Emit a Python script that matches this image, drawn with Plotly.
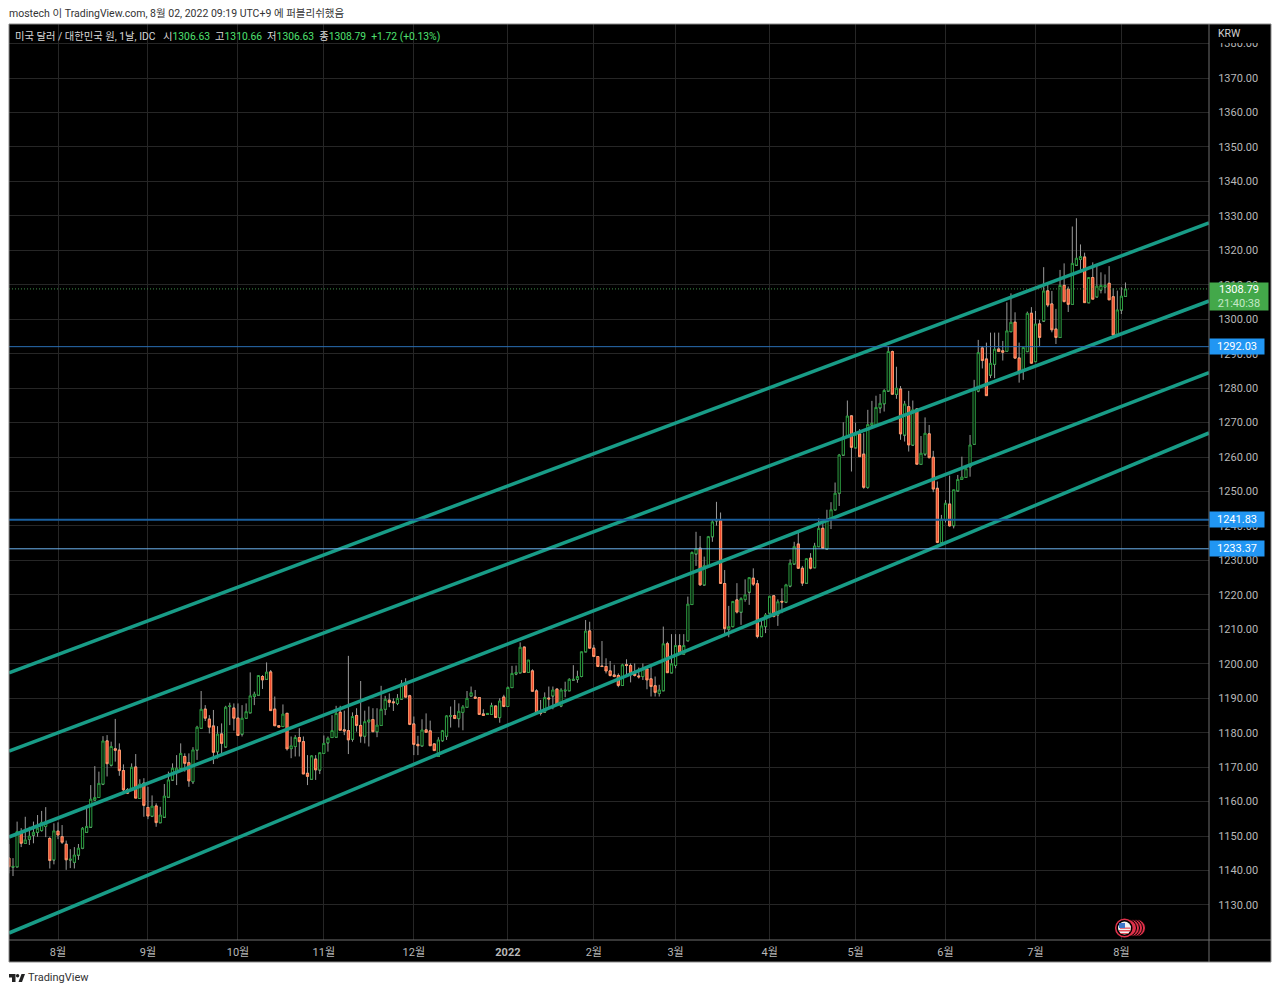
import plotly.graph_objects as go

# --- data ---
bar_start = -12  # trading day index, 0 = 2 Aug 2021
opens = [1143.6,1141.0,1141.1,1150.8,1147.9,1149.1,1150.3,1151.1,1151.6,1152.8,1149.3,1143.1,
 1151.4,1149.8,1147.6,1143.1,1142.4,1144.5,1146.5,1151.1,1152.6,1160.5,1161.2,1165.1,1177.6,1170.6,1175.3,1174.9,1169.0,1163.4,
 1163.9,1170.0,1160.9,1165.3,1158.3,1155.8,1158.7,1153.9,1155.5,1161.3,1166.3,1168.7,1169.7,1173.1,1171.3,1165.8,1175.0,1181.3,
 1186.8,1183.9,1181.9,1174.5,1179.6,1175.9,1187.6,1187.1,1184.2,1179.6,1184.2,1185.8,1190.5,1190.9,1196.3,1195.5,1197.6,1186.8,
 1182.0,1181.8,1185.6,1175.4,1176.0,1178.6,1177.4,1168.2,1166.5,1172.3,1169.2,1174.0,1177.1,1178.6,1178.7,1185.9,1180.8,1180.6,
 1178.1,1185.0,1182.1,1179.0,1183.2,1183.8,1180.3,1182.1,1186.8,1189.4,1188.9,1188.5,1189.8,1194.3,1190.7,1182.5,1176.6,1176.2,
 1180.8,1180.5,1176.7,1173.1,1177.7,1179.0,1184.8,1185.0,1184.1,1185.9,1187.4,1190.7,1190.3,1190.2,1185.4,1185.3,1185.3,1187.7,
 1184.4,1190.3,1187.6,1193.1,1197.1,1197.4,1204.8,1197.5,1197.9,1192.1,1186.1,1186.0,1190.0,1190.7,1192.6,1187.8,1192.2,1192.2,
 1195.3,1195.5,1196.3,1203.5,1209.5,1204.5,1202.1,1199.3,1199.2,1197.9,1196.7,1196.6,1193.7,1199.7,1199.5,1197.2,1196.4,1196.3,
 1198.5,1195.6,1193.6,1191.4,1192.2,1205.8,1197.4,1199.5,1205.2,1202.8,1206.7,1217.2,1231.9,1233.5,1222.9,1228.5,1236.9,1241.5,
 1241.6,1223.3,1210.1,1210.8,1218.5,1215.0,1218.7,1220.8,1224.8,1223.2,1207.9,1210.8,1214.7,1219.7,1214.2,1218.1,1217.9,1222.6,
 1229.0,1234.7,1227.7,1223.4,1230.6,1227.9,1234.0,1239.3,1233.3,1241.8,1244.7,1249.5,1260.6,1265.9,1271.9,1262.7,1266.7,1260.8,
 1251.2,1269.3,1269.3,1274.3,1275.5,1279.2,1290.6,1278.2,1279.7,1266.4,1274.6,1263.5,1273.9,1257.9,1260.9,1266.7,1259.9,1250.9,
 1235.2,1241.8,1246.3,1240.1,1250.2,1253.5,1254.1,1257.2,1263.7,1279.2,1291.6,1288.4,1283.8,1286.9,1291.3,1290.8,1290.7,1296.4,
 1299.1,1288.7,1285.3,1290.6,1301.7,1287.7,1298.6,1299.5,1308.2,1304.4,1297.1,1294.7,1309.8,1308.7,1304.3,1315.7,1317.4,1318.0,
 1304.8,1312.1,1306.5,1308.5,1309.4,1310.4,1306.5,1295.4,1302.7,1306.63]
highs = [1147.7,1143.6,1154.2,1152.3,1155.6,1152.7,1154.2,1156.1,1157.3,1158.4,1149.8,1153.7,
 1154.0,1153.2,1148.7,1146.2,1146.8,1147.7,1152.6,1158.5,1164.8,1170.3,1168.7,1179.0,1179.3,1177.4,1184.0,1176.9,1170.8,1163.9,
 1171.1,1173.8,1166.5,1166.8,1164.3,1161.8,1159.5,1158.5,1165.1,1168.7,1171.1,1173.5,1176.9,1174.0,1174.0,1175.8,1182.0,1192.1,
 1188.0,1185.1,1186.6,1181.9,1182.7,1187.8,1188.7,1188.5,1188.5,1188.0,1188.5,1197.5,1191.9,1196.7,1196.7,1200.4,1198.2,1190.5,
 1182.0,1188.2,1185.6,1178.9,1179.3,1181.3,1178.9,1173.5,1173.5,1173.5,1174.2,1179.2,1178.9,1185.1,1187.8,1187.8,1186.4,1202.3,
 1185.9,1187.1,1195.0,1186.4,1187.6,1187.1,1187.1,1193.6,1190.7,1191.4,1190.0,1191.2,1195.3,1195.8,1191.0,1184.7,1179.1,1183.9,
 1185.6,1183.5,1176.7,1178.7,1180.8,1185.1,1187.6,1189.5,1188.5,1188.0,1192.1,1193.4,1192.4,1190.3,1186.8,1185.6,1188.7,1187.8,
 1190.0,1191.0,1193.4,1199.4,1199.5,1206.2,1205.0,1201.1,1198.4,1192.6,1189.5,1191.7,1193.4,1193.4,1192.9,1192.9,1194.8,1195.8,
 1199.6,1198.0,1203.5,1212.7,1212.2,1205.5,1202.1,1206.6,1201.6,1200.8,1199.7,1197.2,1200.0,1201.3,1200.1,1200.1,1198.9,1200.1,
 1198.7,1199.2,1196.3,1193.9,1210.8,1206.4,1208.6,1208.6,1208.6,1208.6,1219.5,1232.6,1238.3,1237.1,1231.1,1237.1,1241.7,1247.0,
 1243.9,1227.2,1216.8,1218.1,1223.4,1219.3,1224.5,1225.0,1227.7,1224.3,1212.7,1214.7,1219.7,1219.7,1218.7,1221.9,1223.2,1230.3,
 1235.4,1238.3,1228.4,1230.5,1232.1,1235.1,1242.2,1240.8,1244.7,1246.9,1252.6,1260.9,1270.1,1276.4,1272.2,1270.0,1268.1,1266.9,
 1273.7,1276.3,1277.8,1278.3,1279.7,1292.2,1290.9,1286.2,1280.6,1276.3,1279.2,1276.4,1273.9,1266.1,1271.5,1269.3,1261.8,1252.9,
 1243.2,1247.5,1254.6,1250.5,1254.8,1260.1,1257.7,1266.4,1282.4,1294.0,1292.2,1293.2,1296.1,1296.1,1296.1,1293.7,1304.9,1307.5,
 1302.0,1293.2,1291.8,1302.2,1303.5,1302.4,1299.8,1315.1,1310.4,1308.2,1303.0,1314.3,1316.2,1309.5,1326.9,1329.3,1321.7,1319.3,
 1312.1,1316.5,1315.7,1313.6,1313.0,1315.4,1309.0,1308.3,1309.3,1310.66]
lows = [1139.2,1138.4,1141.1,1146.8,1147.9,1147.4,1147.9,1149.8,1151.3,1149.7,1140.6,1141.8,
 1149.1,1147.7,1140.2,1140.7,1140.6,1143.1,1146.2,1151.1,1152.6,1160.5,1161.2,1164.8,1167.3,1170.2,1171.6,1167.5,1162.9,1162.2,
 1163.9,1161.0,1160.9,1155.6,1154.9,1155.5,1152.7,1153.9,1155.5,1161.3,1166.1,1164.8,1169.7,1168.7,1164.3,1165.1,1172.1,1181.3,
 1183.4,1179.8,1170.9,1172.5,1174.0,1175.8,1182.2,1180.6,1179.2,1178.9,1184.0,1185.8,1188.0,1190.9,1192.7,1195.5,1186.4,1182.0,
 1181.6,1181.6,1174.8,1172.6,1173.1,1173.1,1168.0,1164.8,1166.3,1166.3,1168.0,1174.0,1174.5,1178.6,1178.7,1180.7,1179.3,1173.8,
 1177.4,1180.3,1177.1,1176.9,1176.0,1180.1,1178.7,1182.1,1185.1,1187.4,1186.3,1188.0,1189.8,1190.3,1182.2,1173.5,1173.5,1176.2,
 1180.1,1176.2,1174.8,1173.1,1177.4,1177.9,1181.5,1184.0,1181.5,1180.7,1187.4,1190.7,1190.0,1185.3,1184.9,1185.3,1185.3,1184.4,
 1182.9,1187.4,1187.6,1193.1,1196.7,1197.4,1197.4,1197.5,1192.0,1185.4,1185.0,1185.8,1186.8,1186.8,1188.0,1187.4,1190.3,1192.2,
 1195.3,1194.5,1196.1,1203.5,1204.5,1202.1,1199.2,1199.2,1197.2,1196.3,1196.1,1193.2,1193.7,1196.3,1194.6,1196.3,1195.7,1195.3,
 1192.6,1190.5,1190.5,1190.5,1192.2,1197.4,1197.4,1198.7,1202.6,1202.6,1206.7,1217.2,1228.4,1222.6,1222.9,1228.2,1235.4,1240.1,
 1223.2,1208.7,1207.7,1210.6,1214.6,1211.3,1218.0,1217.1,1222.6,1207.4,1207.7,1208.9,1214.7,1213.5,1211.0,1214.7,1217.6,1222.2,
 1229.0,1227.5,1222.6,1223.4,1227.4,1227.9,1234.0,1233.5,1233.3,1239.1,1244.7,1245.8,1260.6,1265.9,1255.8,1262.7,1260.1,1250.8,
 1250.8,1268.8,1268.8,1272.7,1273.2,1279.0,1278.2,1276.9,1265.0,1264.5,1261.6,1263.5,1257.9,1257.9,1260.3,1259.6,1249.8,1235.0,
 1235.2,1241.0,1239.8,1239.3,1250.2,1253.4,1254.1,1254.3,1263.7,1278.8,1285.7,1277.8,1282.9,1282.9,1290.6,1288.0,1290.7,1296.4,
 1288.5,1281.6,1282.4,1290.6,1287.2,1287.7,1292.2,1299.3,1303.5,1296.2,1292.8,1294.7,1304.9,1302.1,1304.3,1315.7,1314.3,1304.8,
 1304.8,1305.8,1306.5,1307.5,1307.5,1305.6,1295.1,1295.4,1301.5,1306.63]
closes = [1141.1,1141.2,1151.3,1147.9,1148.9,1150.0,1151.1,1152.3,1154.0,1153.7,1142.9,1151.5,
 1150.3,1148.2,1143.1,1143.3,1144.5,1146.5,1152.3,1152.8,1160.7,1161.2,1165.3,1177.6,1171.0,1176.0,1174.9,1169.0,1163.4,1162.4,
 1170.0,1161.0,1165.1,1158.9,1155.8,1158.7,1153.9,1156.1,1161.6,1166.3,1169.7,1169.7,1174.0,1171.1,1166.0,1175.0,1181.6,1186.8,
 1184.2,1181.6,1174.3,1179.6,1176.9,1187.4,1187.8,1184.2,1179.2,1184.2,1186.1,1190.7,1191.2,1196.6,1195.3,1197.6,1186.4,1182.0,
 1181.6,1185.4,1175.3,1176.2,1178.6,1177.4,1168.0,1167.3,1173.3,1169.2,1174.2,1176.9,1178.4,1180.6,1185.6,1180.7,1180.5,1177.9,
 1184.7,1182.1,1179.0,1183.2,1183.7,1180.3,1182.2,1186.8,1189.7,1188.8,1188.7,1190.0,1194.3,1190.3,1182.4,1176.6,1176.2,1180.8,
 1180.1,1176.2,1174.8,1177.9,1180.6,1184.9,1185.0,1184.1,1186.2,1187.5,1190.0,1191.6,1190.0,1185.3,1185.0,1185.6,1187.9,1184.4,
 1189.2,1187.6,1193.1,1197.2,1197.5,1204.8,1197.5,1201.1,1192.0,1185.6,1185.6,1190.2,1189.8,1192.4,1188.0,1192.4,1192.4,1195.5,
 1195.5,1196.3,1203.5,1209.5,1204.5,1202.1,1199.2,1199.2,1197.9,1196.6,1196.3,1193.7,1199.7,1199.5,1197.2,1196.6,1196.2,1198.7,
 1195.3,1193.4,1191.7,1192.4,1205.8,1197.4,1200.0,1205.3,1203.0,1205.3,1217.3,1232.3,1233.4,1222.9,1228.5,1236.9,1241.2,1241.9,
 1223.3,1210.2,1210.8,1218.1,1215.0,1218.9,1220.0,1225.0,1223.1,1207.9,1211.0,1214.2,1219.6,1213.7,1218.0,1217.9,1222.9,1229.2,
 1234.0,1227.7,1223.4,1230.5,1227.7,1234.2,1239.3,1233.5,1241.8,1244.7,1249.5,1260.6,1265.9,1271.9,1262.8,1266.6,1260.1,1251.2,
 1269.4,1269.8,1274.4,1275.6,1279.3,1290.6,1278.2,1280.0,1266.7,1275.4,1263.5,1273.7,1257.9,1261.1,1266.9,1259.8,1250.7,1235.2,
 1242.0,1246.6,1240.0,1250.5,1253.5,1254.2,1256.6,1263.5,1279.7,1290.3,1288.0,1277.8,1287.2,1291.3,1290.6,1290.4,1296.6,1299.1,
 1288.7,1284.8,1291.8,1301.7,1287.2,1298.6,1294.7,1308.2,1304.1,1296.9,1294.7,1309.8,1305.1,1304.3,1316.2,1317.7,1318.2,1304.8,
 1312.1,1305.8,1309.6,1309.8,1309.8,1305.6,1295.4,1302.7,1306.7,1308.79]

month_ticks = [0, 22, 44, 65, 87, 110, 131, 151, 174, 195, 217, 239, 260]
month_labels = ["8월", "9월", "10월", "11월", "12월", "<b>2022</b>", "2월", "3월", "4월", "5월", "6월", "7월", "8월"]
price_ticks = [1130, 1140, 1150, 1160, 1170, 1180, 1190, 1200, 1210, 1220, 1230, 1240, 1250, 1260,
               1270, 1280, 1290, 1300, 1310, 1320, 1330, 1340, 1350, 1360, 1370, 1380]

x_range = [-11.98, 281.42]
y_range = [1119.84, 1385.67]
channel_upper = [1197.33, 1327.92]
channel_upper_mid = [1174.69, 1305.28]
channel_lower_mid = [1149.73, 1284.53]
channel_lower = [1121.87, 1266.98]
level_a, level_b, level_c = 1292.03, 1241.83, 1233.37
last_price = 1308.79

days = [bar_start + n for n in range(len(opens))]
body_hi = [max(o, c) for o, c in zip(opens, closes)]
body_lo = [min(o, c) for o, c in zip(opens, closes)]

# --- pixel helpers for page furniture ---
L, R, T, B = 9, 1209, 24, 940
W, H = 1280, 992
def px(v): return (v - L) / (R - L)
def py(v): return (B - v) / (B - T)
def P(s):
    """Path written in pixels -> paper coordinates."""
    out, tok, isx = [], s.split(), True
    for t in tok:
        if t[0].isalpha():
            out.append(t); isx = True
        else:
            out.append(f"{px(float(t)):.5f}" if isx else f"{py(float(t)):.5f}")
            isx = not isx
    return " ".join(out)
def rect(x0, y0, x1, y1, fill, line=None, lw=0, layer="above"):
    return dict(type="rect", xref="paper", yref="paper", x0=px(x0), x1=px(x1), y0=py(y0), y1=py(y1),
                fillcolor=fill, line=dict(color=line or fill, width=lw), layer=layer)
def circ(cx, cy, r, fill, line, lw=1):
    return dict(type="circle", xref="paper", yref="paper", x0=px(cx - r), x1=px(cx + r), y0=py(cy - r), y1=py(cy + r),
                fillcolor=fill, line=dict(color=line, width=lw), layer="above")

FONT = "Roboto, 'Noto Sans CJK KR', sans-serif"
TEAL = "#189c87"
fig = go.Figure()

fig.add_trace(go.Candlestick(x=days, open=opens, high=highs, low=lows, close=opens, whiskerwidth=0,
    increasing=dict(line=dict(color="#9a9a9a", width=1), fillcolor="rgba(0,0,0,0)"),
    decreasing=dict(line=dict(color="#9a9a9a", width=1), fillcolor="rgba(0,0,0,0)"),
    hoverinfo="skip", showlegend=False))
fig.add_trace(go.Candlestick(x=days, open=opens, high=body_hi, low=body_lo, close=closes, whiskerwidth=0,
    increasing=dict(line=dict(color="#2ea043", width=1), fillcolor="#000000"),
    decreasing=dict(line=dict(color="#ff9a6e", width=1), fillcolor="#f04a2e"),
    hoverinfo="skip", showlegend=False))

for vals in (channel_upper, channel_upper_mid, channel_lower_mid, channel_lower):
    fig.add_trace(go.Scatter(x=x_range, y=vals, mode="lines", line=dict(color=TEAL, width=3.5),
                             hoverinfo="skip", showlegend=False))
for lvl, col, w in ((level_a, "#2a6fb5", 1), (level_b, "#1a5f9e", 2), (level_c, "#6db3ef", 1)):
    fig.add_trace(go.Scatter(x=x_range, y=[lvl, lvl], mode="lines", line=dict(color=col, width=w),
                             hoverinfo="skip", showlegend=False))
fig.add_trace(go.Scatter(x=x_range, y=[last_price, last_price], mode="lines",
                         line=dict(color="#3f8f4a", width=1, dash="1px 2px"), hoverinfo="skip", showlegend=False))

shapes = [
    rect(R, T, 1271, 962, "#000000", layer="below"),
    rect(L, B, R, 962, "#000000", layer="below"),
    rect(R, T, 1271, 43, "#000000"),
    dict(type="line", xref="paper", yref="paper", x0=px(R), x1=px(R), y0=py(T), y1=py(962), line=dict(color="#6e6e6e", width=1), layer="above"),
    dict(type="line", xref="paper", yref="paper", x0=px(L), x1=px(1271), y0=py(B), y1=py(B), line=dict(color="#6e6e6e", width=1), layer="above"),
    dict(type="rect", xref="paper", yref="paper", x0=px(L), x1=px(1271), y0=py(T), y1=py(962), line=dict(color="#8a8a8a", width=1), layer="above"),
    # event markers
    circ(1137, 928, 8.5, "#e0314a", "#000000"), circ(1134, 928, 8.5, "#e0314a", "#000000"),
    circ(1131, 928, 8.5, "#e0314a", "#000000"), circ(1128, 928, 8.5, "#e0314a", "#000000"),
    circ(1124.5, 928, 8.8, "#000000", "#e0314a", 1.5),
    circ(1124.5, 928, 6.5, "#f2f2f2", "#f2f2f2", 0),
    rect(1119, 930, 1130.5, 931.5, "#e8505b"), rect(1120, 927.5, 1130.5, 928.8, "#e8505b"),
    rect(1120.5, 933, 1128.5, 934, "#e8505b"),
    rect(1119, 923, 1125, 928, "#3f78c8"),
    # TradingView logo
    dict(type="path", xref="paper", yref="paper", path=P("M 9 974 L 15.5 974 L 15.5 982 L 12 982 L 12 977.5 L 9 977.5 Z"), fillcolor="#222222", line=dict(width=0), layer="above"),
    circ(17.6, 975.7, 1.7, "#222222", "#222222", 0),
    dict(type="path", xref="paper", yref="paper", path=P("M 18.5 982 L 21.5 974 L 25 974 L 22 982 Z"), fillcolor="#222222", line=dict(width=0), layer="above"),
]

def label(y, text, bg, w, h):
    return dict(xref="paper", yref="y", x=px(R), y=y, xanchor="left", yanchor="middle", text=text, showarrow=False,
                bgcolor=bg, width=w, height=h, align="center", font=dict(family=FONT, size=11, color="#ffffff"))

G = "#4fe070"
W_ = "#d8d8d8"
legend = (f"<span style='color:{W_}'>미국 달러 / 대한민국 원, 1날, IDC   시</span><span style='color:{G}'>1306.63</span>"
          f"<span style='color:{W_}'>  고</span><span style='color:{G}'>1310.66</span>"
          f"<span style='color:{W_}'>  저</span><span style='color:{G}'>1306.63</span>"
          f"<span style='color:{W_}'>  종</span><span style='color:{G}'>1308.79</span>"
          f"<span style='color:{G}'>  +1.72 (+0.13%)</span>")

annotations = [
    dict(xref="paper", yref="paper", x=px(7), y=py(13), xanchor="left", yanchor="middle", showarrow=False,
         text="mostech 이 TradingView.com, 8월 02, 2022 09:19 UTC+9 에 퍼블리쉬했음",
         font=dict(family=FONT, size=10.5, color="#333333")),
    dict(xref="paper", yref="paper", x=px(13), y=py(36), xanchor="left", yanchor="middle", showarrow=False,
         text=legend, font=dict(family=FONT, size=10.3, color=W_)),
    dict(xref="paper", yref="paper", x=px(26), y=py(978), xanchor="left", yanchor="middle", showarrow=False,
         text="TradingView", font=dict(family=FONT, size=11, color="#333333")),
    dict(xref="paper", yref="paper", x=px(1216), y=py(34), xanchor="left", yanchor="middle", showarrow=False,
         text="KRW", font=dict(family=FONT, size=10.5, color="#d0d0d0")),
    label(level_a, "1292.03", "#2196f3", 52, 13),
    label(level_b, "1241.83", "#2196f3", 52, 13),
    label(level_c, "1233.37", "#2196f3", 52, 13),
    label(last_price - 2.1, "1308.79<br><span style='color:#c5e8c8'>21:40:38</span>", "#43a84a", 56, 25),
]

fig.update_layout(
    width=W, height=H, autosize=False,
    margin=dict(l=L, r=W - R, t=T, b=H - B, pad=0),
    paper_bgcolor="#ffffff", plot_bgcolor="#000000",
    boxgap=0, boxgroupgap=0.45, showlegend=False, hovermode=False, dragmode=False,
    shapes=shapes, annotations=annotations,
    xaxis=dict(range=x_range, tickmode="array", tickvals=month_ticks, ticktext=month_labels,
               showgrid=True, gridcolor="#262626", gridwidth=1, zeroline=False, showline=False,
               rangeslider=dict(visible=False), ticks="outside", ticklen=2, tickcolor="#000000",
               tickfont=dict(family=FONT, size=11, color="#b8b8b8"), fixedrange=True),
    yaxis=dict(range=y_range, side="right", tickmode="array", tickvals=price_ticks,
               ticktext=[f"{v:.2f}" for v in price_ticks],
               showgrid=True, gridcolor="#262626", gridwidth=1, zeroline=False, showline=False,
               ticks="outside", ticklen=6, tickcolor="#000000",
               tickfont=dict(family=FONT, size=11, color="#b8b8b8"), fixedrange=True),
)

fig.write_html("out.html", config=dict(displayModeBar=False),
               post_script="document.body.style.margin='0';document.documentElement.style.overflow='hidden';")
